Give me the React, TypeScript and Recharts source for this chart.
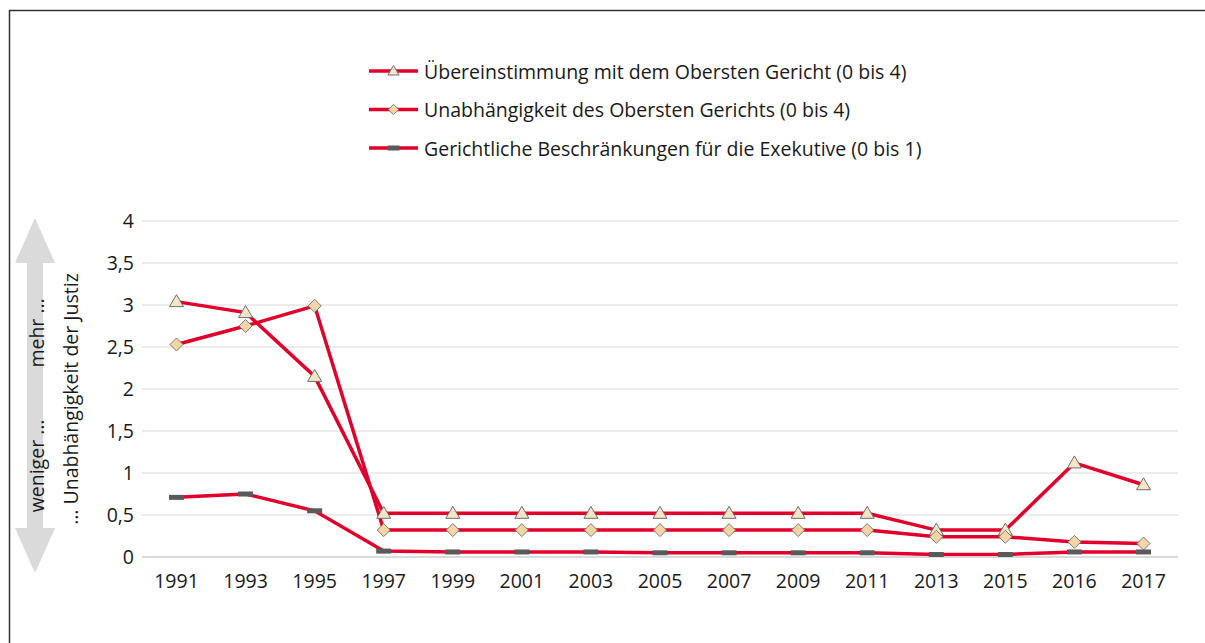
import React from 'react';
import { LineChart, Line, XAxis, YAxis, CartesianGrid } from 'recharts';

const years = ['1991', '1993', '1995', '1997', '1999', '2001', '2003', '2005', '2007', '2009', '2011', '2013', '2015', '2016', '2017'];
const uebereinstimmung = [3.04, 2.91, 2.15, 0.52, 0.52, 0.52, 0.52, 0.52, 0.52, 0.52, 0.52, 0.32, 0.32, 1.12, 0.86];
const unabhaengigkeit = [2.53, 2.75, 2.99, 0.32, 0.32, 0.32, 0.32, 0.32, 0.32, 0.32, 0.32, 0.24, 0.24, 0.18, 0.16];
const beschraenkungen = [0.71, 0.75, 0.55, 0.07, 0.06, 0.06, 0.06, 0.05, 0.05, 0.05, 0.05, 0.03, 0.03, 0.06, 0.06];
const yTicks = [0, 0.5, 1, 1.5, 2, 2.5, 3, 3.5, 4];
const seriesNames = [
  'Übereinstimmung mit dem Obersten Gericht (0 bis 4)',
  'Unabhängigkeit des Obersten Gerichts (0 bis 4)',
  'Gerichtliche Beschränkungen für die Exekutive (0 bis 1)',
];
const seriesKeys = ['a', 'b', 'c'];
const markerTypes = ['triangle', 'diamond', 'dash'];
const yAxisLabel = '… Unabhängigkeit der Justiz';
const arrowTop = 'mehr …';
const arrowBottom = 'weniger …';

const data = years.map((y, i) => ({
  year: y,
  a: uebereinstimmung[i],
  b: unabhaengigkeit[i],
  c: beschraenkungen[i],
}));

const FONT = "'Open Sans', sans-serif";
const FS = 19.5;
const RED = '#e2002b';

function Marker({ type, cx, cy, small }: { type: string; cx: number; cy: number; small?: boolean }) {
  const s = small ? 0.8 : 1;
  if (type === 'triangle') {
    const pts = `${cx},${cy - 7 * s} ${cx - 7 * s},${cy + 5 * s} ${cx + 7 * s},${cy + 5 * s}`;
    return <polygon points={pts} fill="#f6e6c6" stroke="#6e6e6e" strokeWidth={1} />;
  }
  if (type === 'diamond') {
    const r = 6.5 * s;
    const pts = `${cx},${cy - r} ${cx + r},${cy} ${cx},${cy + r} ${cx - r},${cy}`;
    return <polygon points={pts} fill="#f4d6a4" stroke="#7a7a7a" strokeWidth={1} />;
  }
  return <rect x={cx - 7.5 * s} y={cy - 2.5} width={15 * s} height={5} fill="#5a5a5a" />;
}

const makeDot = (type: string) => (props: any) => {
  const { cx, cy, index } = props;
  if (cx == null || cy == null) return <g key={index} />;
  return (
    <g key={`${type}-${index}`}>
      <Marker type={type} cx={cx} cy={cy} />
    </g>
  );
};

const fmt = (v: number) => String(v).replace('.', ',');

export default function App() {
  return (
    <div style={{ position: 'absolute', left: 0, top: 0, width: 1205, height: 643, background: '#fff', fontFamily: FONT }}>
      <LineChart
        width={1205}
        height={643}
        data={data}
        margin={{ top: 221, right: 27, bottom: 56, left: 82 }}
      >
        <CartesianGrid horizontal vertical={false} stroke="#d9d9d9" strokeWidth={1} />
        <XAxis
          dataKey="year"
          interval={0}
          height={30}
          padding={{ left: 34.5, right: 34.5 }}
          axisLine={{ stroke: '#d4d4d4', strokeWidth: 1.5 }}
          tickLine={false}
          tickMargin={11}
          tick={{ fill: '#1a1a1a', fontSize: FS, fontFamily: FONT }}
        />
        <YAxis
          width={60}
          domain={[0, 4]}
          ticks={yTicks}
          tickFormatter={fmt}
          axisLine={false}
          tickLine={false}
          tick={{ fill: '#1a1a1a', fontSize: FS, fontFamily: FONT }}
        />
        {seriesKeys.map((k, i) => (
          <Line
            key={k}
            dataKey={k}
            name={seriesNames[i]}
            stroke={RED}
            strokeWidth={3.5}
            dot={makeDot(markerTypes[i])}
            activeDot={false}
            isAnimationActive={false}
          />
        ))}
      </LineChart>
      <svg
        width={1205}
        height={643}
        style={{ position: 'absolute', left: 0, top: 0, pointerEvents: 'none' }}
      >
        <line x1={9} y1={10.5} x2={1205} y2={10.5} stroke="#333" strokeWidth={1.5} />
        <line x1={9.5} y1={10} x2={9.5} y2={643} stroke="#333" strokeWidth={1.5} />
        <polygon
          points="35,218 55,263 43,263 43,528 55,528 35,573 15,528 27,528 27,263 15,263"
          fill="#dadada"
        />
        <text x={36} y={333} transform="rotate(-90 36 333)" textAnchor="middle" dominantBaseline="central" fontSize={FS} fill="#1a1a1a" fontFamily={FONT}>
          {arrowTop}
        </text>
        <text x={36} y={466} transform="rotate(-90 36 466)" textAnchor="middle" dominantBaseline="central" fontSize={FS} fill="#1a1a1a" fontFamily={FONT}>
          {arrowBottom}
        </text>
        <text x={70} y={399} transform="rotate(-90 70 399)" textAnchor="middle" dominantBaseline="central" fontSize={FS} fill="#1a1a1a" fontFamily={FONT}>
          {yAxisLabel}
        </text>
        {seriesNames.map((n, i) => {
          const y = 71 + i * 38.5;
          return (
            <g key={n}>
              <line x1={369} y1={y} x2={418} y2={y} stroke={RED} strokeWidth={3.5} />
              <Marker type={markerTypes[i]} cx={393.5} cy={y} small />
              <text x={424} y={y} dominantBaseline="central" fontSize={FS} fill="#1a1a1a" fontFamily={FONT}>
                {n}
              </text>
            </g>
          );
        })}
      </svg>
    </div>
  );
}
